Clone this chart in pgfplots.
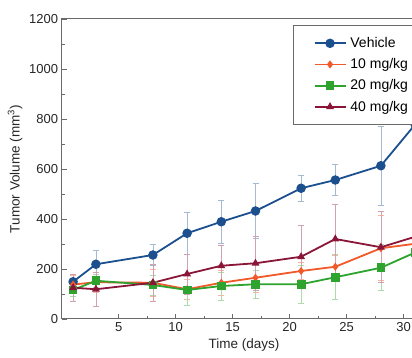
\documentclass[border=0pt]{standalone}
\usepackage{pgfplots}
\pgfplotsset{compat=1.18}
\usepackage{fontspec}
\setmainfont{Liberation Sans}
\definecolor{cveh}{HTML}{1B4F8E}
\definecolor{c10}{HTML}{F0592A}
\definecolor{c20}{HTML}{2EA32E}
\definecolor{c40}{HTML}{8A1538}
\definecolor{axgray}{HTML}{6A6A6A}
\begin{document}
\begin{tikzpicture}
\useasboundingbox (-61.7pt,-39pt) rectangle (350.3pt,319pt);
\clip (-61.7pt,-39pt) rectangle (350.3pt,319pt);
\begin{axis}[
  at={(0pt,0pt)}, anchor=south west,
  scale only axis, width=364.8pt, height=300pt,
  xmin=0, xmax=32, ymin=0, ymax=1200,
  xtick={5,10,...,30}, minor x tick num=1,
  ytick={0,200,...,1200}, minor y tick num=1,
  tick align=inside, major tick length=5pt, minor tick length=3pt,
  tick pos=left,
  /pgf/number format/assume math mode=true,
  /pgf/number format/1000 sep={},
  axis line style={axgray, line width=1pt},
  every tick/.style={axgray, line width=0.8pt},
  tick label style={font=\fontsize{13}{15}\selectfont, text=black!85},
  label style={font=\fontsize{13.5}{16}\selectfont, text=black!85},
  xlabel={Time (days)}, ylabel={Tumor Volume (mm\textsuperscript{3})},
  legend style={at={(axis cs:20.3,1176)}, anchor=north west, draw=axgray, line width=1pt,
    font=\fontsize{14}{16}\selectfont, row sep=5.5pt, inner xsep=20pt, inner ysep=10pt,
    nodes={inner xsep=4pt}},
  legend cell align=left,
  legend image code/.code={\draw[mark repeat=2,mark phase=2] plot coordinates {(0pt,0pt) (15.5pt,0pt) (31pt,0pt)};},
  every axis plot/.append style={line width=1.8pt},
]
\addplot[color=cveh, mark=*, mark size=3.8pt, mark options={solid},
  error bars/.cd, y dir=both, y explicit,
  error bar style={cveh!40, line width=0.8pt},
  error mark options={rotate=90, mark size=3pt, cveh!40, line width=0.8pt}]
  coordinates {(1,149) +- (0,30) (3,219) +- (0,55) (8,256) +- (0,42) (11,343) +- (0,85)
    (14,389) +- (0,85) (17,432) +- (0,111) (21,523) +- (0,53) (24,556) +- (0,62)
    (28,613) +- (0,158) (31,778) +- (0,120)};
\addlegendentry{Vehicle}
\addplot[color=c10, mark=diamond*, mark size=2.6pt, mark options={solid},
  error bars/.cd, y dir=both, y explicit,
  error bar style={c10!45, line width=0.8pt},
  error mark options={rotate=90, mark size=3pt, c10!45, line width=0.8pt}]
  coordinates {(1,138) +- (0,35) (3,147) +- (0,40) (8,145) +- (0,55) (11,119) +- (0,40)
    (14,145) +- (0,50) (17,165) +- (0,60) (21,192) +- (0,35) (24,209) +- (0,44)
    (28,283) +- (0,130) (31,301) +- (0,100)};
\addlegendentry{10 mg/kg}
\addplot[color=c20, mark=square*, mark size=3.5pt, mark options={solid},
  error bars/.cd, y dir=both, y explicit,
  error bar style={c20!40, line width=0.8pt},
  error mark options={rotate=90, mark size=3pt, c20!40, line width=0.8pt}]
  coordinates {(1,116) +- (0,25) (3,153) +- (0,27) (8,136) +- (0,40) (11,116) +- (0,60)
    (14,132) +- (0,56) (17,139) +- (0,56) (21,139) +- (0,76) (24,167) +- (0,90)
    (28,205) +- (0,92) (31,266) +- (0,80)};
\addlegendentry{20 mg/kg}
\addplot[color=c40, mark=triangle*, mark size=2.8pt, mark options={solid},
  error bars/.cd, y dir=both, y explicit,
  error bar style={c40!40, line width=0.8pt},
  error mark options={rotate=90, mark size=3pt, c40!40, line width=0.8pt}]
  coordinates {(1,125) +- (0,55) (3,119) +- (0,67) (8,145) +- (0,73) (11,180) +- (0,80)
    (14,213) +- (0,83) (17,223) +- (0,109) (21,249) +- (0,127) (24,320) +- (0,140)
    (28,287) +- (0,142) (31,329) +- (0,120)};
\addlegendentry{40 mg/kg}
\end{axis}
\end{tikzpicture}
\end{document}
